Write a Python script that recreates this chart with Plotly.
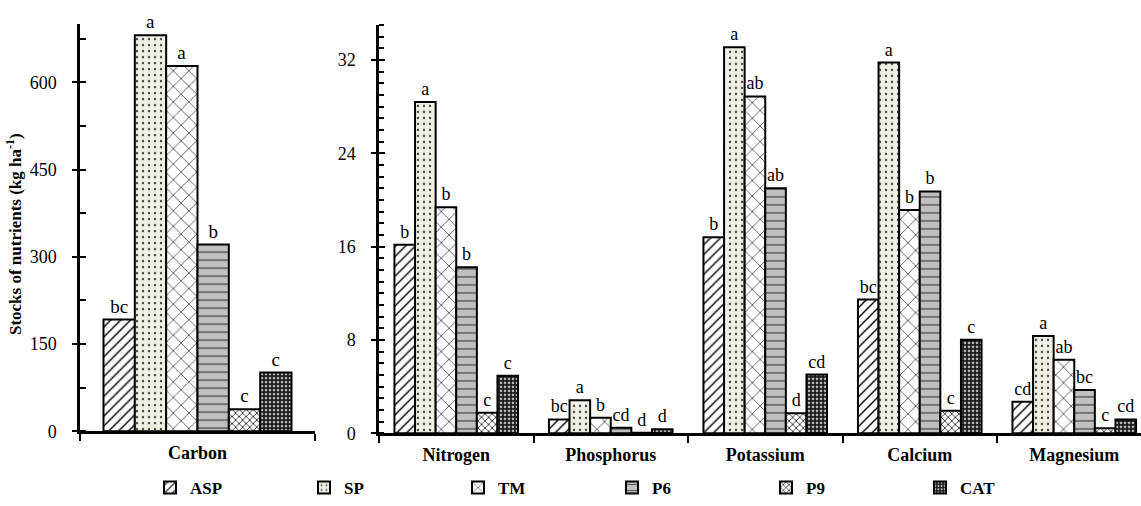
import plotly.graph_objects as go

treatments = ["ASP", "SP", "TM", "P6", "P9", "CAT"]

carbon_cat = ["Carbon"]
carbon_values = {"ASP": 192, "SP": 681, "TM": 628, "P6": 321, "P9": 38, "CAT": 101}
carbon_letters = {"ASP": "bc", "SP": "a", "TM": "a", "P6": "b", "P9": "c", "CAT": "c"}

nutrients = ["Nitrogen", "Phosphorus", "Potassium", "Calcium", "Magnesium"]
asp_values = [16.15, 1.19, 16.8, 11.46, 2.70]
sp_values = [28.4, 2.84, 33.08, 31.77, 8.33]
tm_values = [19.37, 1.34, 28.87, 19.14, 6.31]
p6_values = [14.22, 0.48, 20.99, 20.73, 3.70]
p9_values = [1.77, 0.05, 1.71, 1.94, 0.43]
cat_values = [4.92, 0.34, 5.03, 8.02, 1.19]

asp_letters = ["b", "bc", "b", "bc", "cd"]
sp_letters = ["a", "a", "a", "a", "a"]
tm_letters = ["b", "b", "ab", "b", "ab"]
p6_letters = ["b", "cd", "ab", "b", "bc"]
p9_letters = ["c", "d", "d", "c", "c"]
cat_letters = ["c", "d", "cd", "c", "cd"]

carbon_ticks = [0, 150, 300, 450, 600]
nutrient_ticks = [0, 8, 16, 24, 32]

right_values = {"ASP": asp_values, "SP": sp_values, "TM": tm_values,
                "P6": p6_values, "P9": p9_values, "CAT": cat_values}
right_letters = {"ASP": asp_letters, "SP": sp_letters, "TM": tm_letters,
                 "P6": p6_letters, "P9": p9_letters, "CAT": cat_letters}

styles = {
    "ASP": dict(shape="/", bg="white", fg="black", size=7, sol=0.2),
    "SP": dict(shape=".", bg="#f1efe4", fg="#444444", size=6, sol=0.12),
    "TM": dict(shape="x", bg="white", fg="#222222", size=11, sol=0.12),
    "P6": dict(shape="-", bg="#c0c0c0", fg="#222222", size=8, sol=0.12),
    "P9": dict(shape="x", bg="white", fg="#222222", size=5, sol=0.3),
    "CAT": dict(shape=".", bg="#1a1a1a", fg="#bbbbbb", size=4, sol=0.35),
}

FONT = "Liberation Serif"
fig = go.Figure()

for t in treatments:
    s = styles[t]
    pattern = dict(shape=s["shape"], bgcolor=s["bg"], fgcolor=s["fg"],
                   size=s["size"], solidity=s["sol"], fillmode="replace")
    fig.add_trace(go.Bar(
        x=carbon_cat, y=[carbon_values[t]], name=t,
        text=[carbon_letters[t]], textposition="outside", constraintext="none",
        textfont=dict(family=FONT, size=19, color="black"), cliponaxis=False,
        marker=dict(color=s["bg"], pattern=pattern, line=dict(color="black", width=2)),
        xaxis="x", yaxis="y", showlegend=True,
    ))

for t in treatments:
    s = styles[t]
    pattern = dict(shape=s["shape"], bgcolor=s["bg"], fgcolor=s["fg"],
                   size=s["size"], solidity=s["sol"], fillmode="replace")
    fig.add_trace(go.Bar(
        x=nutrients, y=right_values[t], name=t,
        text=right_letters[t], textposition="outside", constraintext="none",
        textfont=dict(family=FONT, size=18, color="black"), cliponaxis=False,
        marker=dict(color=s["bg"], pattern=pattern, line=dict(color="black", width=2)),
        xaxis="x2", yaxis="y2", showlegend=False,
    ))

W, H = 1141, 506
def px_x(v):
    return v / W
def px_y(v):
    return (H - v) / H

xcommon = dict(type="category", tickson="boundaries", ticks="outside", ticklen=7,
               tickwidth=2, tickcolor="black", showline=True, linewidth=2.5,
               linecolor="black", showgrid=False, zeroline=False, ticklabelstandoff=3,
               tickfont=dict(family=FONT, size=18, color="black", weight="bold"),
               automargin=False)
ycommon = dict(ticks="outside", ticklen=5, tickwidth=2, tickcolor="black",
               showline=True, linewidth=2.5, linecolor="black", showgrid=False,
               zeroline=False, ticklabelstandoff=12,
               tickfont=dict(family=FONT, size=18, color="black"),
               automargin=False)

fig.update_layout(
    width=W, height=H,
    margin=dict(l=0, r=0, t=0, b=0),
    paper_bgcolor="white", plot_bgcolor="rgba(0,0,0,0)",
    barmode="group", bargap=0.2, bargroupgap=0,
    xaxis=dict(domain=[px_x(80), px_x(315)], anchor="y", range=[-0.5, 0.5], **xcommon),
    yaxis=dict(domain=[px_y(433), px_y(24.2)], anchor="x", range=[0, 700],
               tickvals=carbon_ticks,
               minor=dict(ticks="inside", dtick=75, ticklen=6, tickwidth=2, tickcolor="black"),
               **ycommon),
    xaxis2=dict(domain=[px_x(379), 1.0], anchor="y2", range=[-0.5, 4.432], **xcommon),
    yaxis2=dict(domain=[px_y(435), px_y(25)], anchor="x2", range=[0, 35],
                tickvals=nutrient_ticks,
                minor=dict(ticks="inside", dtick=1, ticklen=5, tickwidth=2, tickcolor="black"),
                **ycommon),
    yaxis3=dict(overlaying="y", anchor="x", range=[0, 700], tickvals=carbon_ticks,
                ticks="inside", ticklen=6, tickwidth=2, tickcolor="black",
                showticklabels=False, showline=False, showgrid=False, zeroline=False),
    yaxis4=dict(overlaying="y2", anchor="x2", range=[0, 35], tickvals=nutrient_ticks,
                ticks="inside", ticklen=6, tickwidth=2, tickcolor="black",
                showticklabels=False, showline=False, showgrid=False, zeroline=False),
    legend=dict(orientation="h", x=px_x(150), xanchor="left", y=px_y(490), yanchor="middle",
                entrywidth=109, entrywidthmode="pixels", itemwidth=30,
                font=dict(family=FONT, size=17, color="black", weight="bold"),
                bgcolor="rgba(0,0,0,0)", traceorder="normal"),
    annotations=[dict(
        text="<b>Stocks of nutrients (kg ha<sup>-1</sup>)</b>",
        xref="paper", yref="paper", x=px_x(14), y=px_y(235),
        xanchor="center", yanchor="middle", textangle=-90, showarrow=False,
        font=dict(family=FONT, size=17, color="black"),
    )],
)

fig.add_trace(go.Scatter(x=["Carbon"], y=[0], xaxis="x", yaxis="y3", mode="markers",
                         marker=dict(opacity=0), showlegend=False, hoverinfo="skip"))
fig.add_trace(go.Scatter(x=["Nitrogen"], y=[0], xaxis="x2", yaxis="y4", mode="markers",
                         marker=dict(opacity=0), showlegend=False, hoverinfo="skip"))

fig.write_html("out.html", config={"displayModeBar": False},
               post_script="document.body.style.margin='0';document.body.style.overflow='hidden';")
